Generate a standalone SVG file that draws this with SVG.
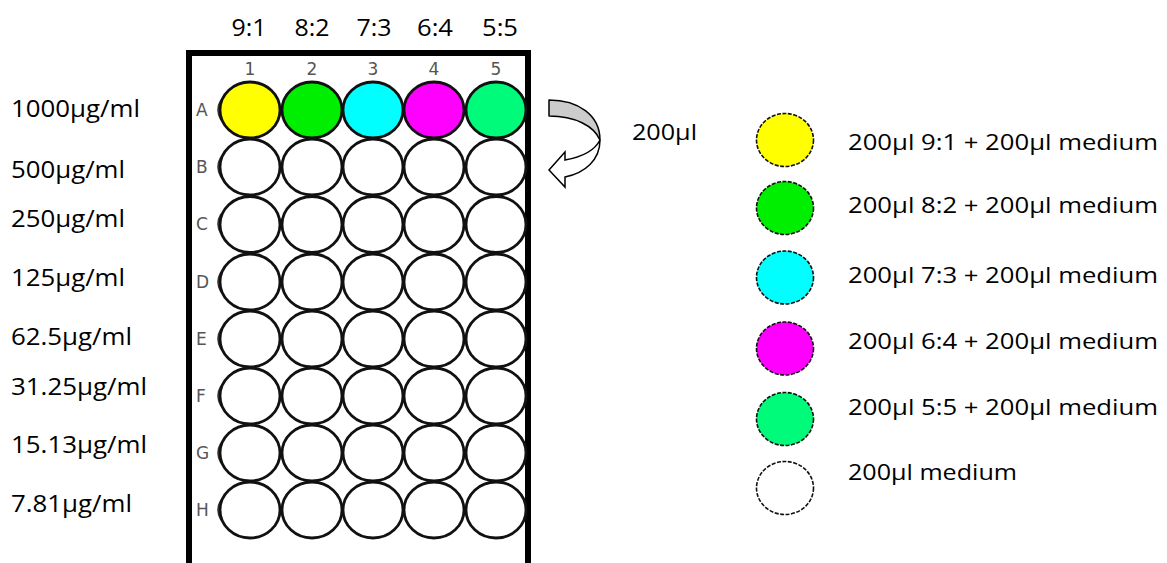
<svg xmlns="http://www.w3.org/2000/svg" width="1167" height="563" viewBox="0 0 1167 563">
<style>
.lbl{font-family:"Open Sans","Liberation Sans",sans-serif;fill:#000}
.conc{font-size:23px}
.ratio{font-size:24px;text-anchor:middle}
.leg{font-size:21px}
.num{font-family:"DejaVu Sans","Liberation Sans",sans-serif;font-size:17px;fill:#555;text-anchor:middle}
.row{font-family:"DejaVu Sans","Liberation Sans",sans-serif;font-size:17px;fill:#555}
.well{stroke:#111;stroke-width:2.8}
.lc{stroke:#111;stroke-width:1.6;stroke-dasharray:4 1.5}
.tick{fill:none;stroke:#333;stroke-width:1.6}
</style>
<rect width="1167" height="563" fill="#fff"/>

<g id="ratio-labels">
<text class="lbl ratio" x="249" y="36" textLength="35" lengthAdjust="spacingAndGlyphs">9:1</text>
<text class="lbl ratio" x="312" y="36" textLength="35" lengthAdjust="spacingAndGlyphs">8:2</text>
<text class="lbl ratio" x="374" y="36" textLength="35" lengthAdjust="spacingAndGlyphs">7:3</text>
<text class="lbl ratio" x="435" y="36" textLength="36" lengthAdjust="spacingAndGlyphs">6:4</text>
<text class="lbl ratio" x="500" y="36" textLength="36" lengthAdjust="spacingAndGlyphs">5:5</text>
</g>

<g id="concentration-labels">
<text class="lbl conc" x="11" y="117" textLength="129" lengthAdjust="spacingAndGlyphs">1000µg/ml</text>
<text class="lbl conc" x="11" y="178" textLength="114" lengthAdjust="spacingAndGlyphs">500µg/ml</text>
<text class="lbl conc" x="11" y="227" textLength="114" lengthAdjust="spacingAndGlyphs">250µg/ml</text>
<text class="lbl conc" x="11" y="286" textLength="114" lengthAdjust="spacingAndGlyphs">125µg/ml</text>
<text class="lbl conc" x="11" y="345" textLength="121" lengthAdjust="spacingAndGlyphs">62.5µg/ml</text>
<text class="lbl conc" x="11" y="395" textLength="136" lengthAdjust="spacingAndGlyphs">31.25µg/ml</text>
<text class="lbl conc" x="11" y="453" textLength="136" lengthAdjust="spacingAndGlyphs">15.13µg/ml</text>
<text class="lbl conc" x="11" y="512" textLength="121" lengthAdjust="spacingAndGlyphs">7.81µg/ml</text>
</g>

<g id="plate">
<path d="M189,563 V53 H528 V563" fill="none" stroke="#000" stroke-width="6"/>
<text class="num" x="250" y="75">1</text>
<text class="num" x="312" y="75">2</text>
<text class="num" x="373" y="75">3</text>
<text class="num" x="434" y="75">4</text>
<text class="num" x="496" y="75">5</text>
<text class="row" x="196" y="116">A</text>
<text class="row" x="196" y="173">B</text>
<text class="row" x="196" y="230">C</text>
<text class="row" x="196" y="288">D</text>
<text class="row" x="196" y="345">E</text>
<text class="row" x="196" y="402">F</text>
<text class="row" x="196" y="459">G</text>
<text class="row" x="196" y="516">H</text>
<path class="tick" d="M221,100 Q215,110 221,120 M221,157 Q215,167 221,177 M221,214 Q215,224 221,234 M221,272 Q215,282 221,292 M221,329 Q215,339 221,349 M221,386 Q215,396 221,406 M221,443 Q215,453 221,463 M221,500 Q215,510 221,520"/>
</g>

<g id="wells-row-A">
<ellipse class="well" cx="250" cy="110" rx="30" ry="28" fill="#FFFF00"/>
<ellipse class="well" cx="312" cy="110" rx="30" ry="28" fill="#00EE00"/>
<ellipse class="well" cx="373" cy="110" rx="30" ry="28" fill="#00FFFF"/>
<ellipse class="well" cx="434" cy="110" rx="30" ry="28" fill="#FF00FF"/>
<ellipse class="well" cx="496" cy="110" rx="30" ry="28" fill="#00FA7A"/>
</g>
<g id="wells-rows-B-H" fill="#fff">
<g id="row-B"><ellipse class="well" cx="250" cy="167" rx="30" ry="28"/><ellipse class="well" cx="312" cy="167" rx="30" ry="28"/><ellipse class="well" cx="373" cy="167" rx="30" ry="28"/><ellipse class="well" cx="434" cy="167" rx="30" ry="28"/><ellipse class="well" cx="496" cy="167" rx="30" ry="28"/></g>
<g id="row-C"><ellipse class="well" cx="250" cy="224.5" rx="30" ry="28"/><ellipse class="well" cx="312" cy="224.5" rx="30" ry="28"/><ellipse class="well" cx="373" cy="224.5" rx="30" ry="28"/><ellipse class="well" cx="434" cy="224.5" rx="30" ry="28"/><ellipse class="well" cx="496" cy="224.5" rx="30" ry="28"/></g>
<g id="row-D"><ellipse class="well" cx="250" cy="282" rx="30" ry="28"/><ellipse class="well" cx="312" cy="282" rx="30" ry="28"/><ellipse class="well" cx="373" cy="282" rx="30" ry="28"/><ellipse class="well" cx="434" cy="282" rx="30" ry="28"/><ellipse class="well" cx="496" cy="282" rx="30" ry="28"/></g>
<g id="row-E"><ellipse class="well" cx="250" cy="339" rx="30" ry="28"/><ellipse class="well" cx="312" cy="339" rx="30" ry="28"/><ellipse class="well" cx="373" cy="339" rx="30" ry="28"/><ellipse class="well" cx="434" cy="339" rx="30" ry="28"/><ellipse class="well" cx="496" cy="339" rx="30" ry="28"/></g>
<g id="row-F"><ellipse class="well" cx="250" cy="396" rx="30" ry="28"/><ellipse class="well" cx="312" cy="396" rx="30" ry="28"/><ellipse class="well" cx="373" cy="396" rx="30" ry="28"/><ellipse class="well" cx="434" cy="396" rx="30" ry="28"/><ellipse class="well" cx="496" cy="396" rx="30" ry="28"/></g>
<g id="row-G"><ellipse class="well" cx="250" cy="453" rx="30" ry="28"/><ellipse class="well" cx="312" cy="453" rx="30" ry="28"/><ellipse class="well" cx="373" cy="453" rx="30" ry="28"/><ellipse class="well" cx="434" cy="453" rx="30" ry="28"/><ellipse class="well" cx="496" cy="453" rx="30" ry="28"/></g>
<g id="row-H"><ellipse class="well" cx="250" cy="510" rx="30" ry="28"/><ellipse class="well" cx="312" cy="510" rx="30" ry="28"/><ellipse class="well" cx="373" cy="510" rx="30" ry="28"/><ellipse class="well" cx="434" cy="510" rx="30" ry="28"/><ellipse class="well" cx="496" cy="510" rx="30" ry="28"/></g>
</g>

<g id="connectors">
<path d="M549,100 C578,100 600,115 600,140 C594,126 575,116 549,116 Z" fill="#cccccc" stroke="#000" stroke-width="1.5" stroke-linejoin="round"/>
<path d="M600,140 C600,160 585,173 565,177 L565,187 L549,170 L565,152 L565,160 C582,157 595,150 600,140 Z" fill="#fff" stroke="#000" stroke-width="1.5" stroke-linejoin="miter"/>
</g>
<g id="transfer-label">
<text class="lbl leg" x="632" y="140" textLength="65" lengthAdjust="spacingAndGlyphs">200µl</text>
</g>

<g id="legend-9-1">
<ellipse class="lc" cx="785" cy="140" rx="28.5" ry="26.5" fill="#FFFF00"/>
<text class="lbl leg" x="848" y="150" textLength="310" lengthAdjust="spacingAndGlyphs">200µl 9:1 + 200µl medium</text>
</g>
<g id="legend-8-2">
<ellipse class="lc" cx="785" cy="208" rx="28.5" ry="26.5" fill="#00EE00"/>
<text class="lbl leg" x="848" y="213" textLength="310" lengthAdjust="spacingAndGlyphs">200µl 8:2 + 200µl medium</text>
</g>
<g id="legend-7-3">
<ellipse class="lc" cx="785" cy="277.5" rx="28.5" ry="26.5" fill="#00FFFF"/>
<text class="lbl leg" x="848" y="283" textLength="310" lengthAdjust="spacingAndGlyphs">200µl 7:3 + 200µl medium</text>
</g>
<g id="legend-6-4">
<ellipse class="lc" cx="785" cy="348.5" rx="28.5" ry="26.5" fill="#FF00FF"/>
<text class="lbl leg" x="848" y="349" textLength="310" lengthAdjust="spacingAndGlyphs">200µl 6:4 + 200µl medium</text>
</g>
<g id="legend-5-5">
<ellipse class="lc" cx="785" cy="419" rx="28.5" ry="26.5" fill="#00FA7A"/>
<text class="lbl leg" x="848" y="415" textLength="310" lengthAdjust="spacingAndGlyphs">200µl 5:5 + 200µl medium</text>
</g>
<g id="legend-medium">
<ellipse class="lc" cx="785" cy="488" rx="28.5" ry="26.5" fill="#fff"/>
<text class="lbl leg" x="848" y="480" textLength="169" lengthAdjust="spacingAndGlyphs">200µl medium</text>
</g>
</svg>
